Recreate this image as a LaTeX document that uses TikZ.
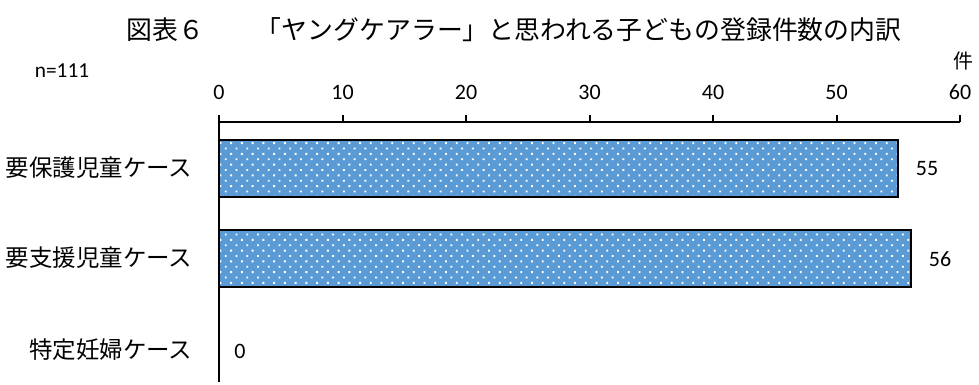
\documentclass[tikz,border=0pt]{standalone}
\usepackage{fontspec}
\setmainfont{Carlito}
\newfontfamily\jpfont{Noto Sans CJK JP}
\usetikzlibrary{patterns.meta}
\definecolor{barblue}{RGB}{91,155,213}

\tikzset{
	axis/.style={line width=1.5pt},
	bar/.style={preaction={fill=barblue}, draw=black, line width=1.5pt,
		pattern={Dots[radius=1pt, distance=5.7pt, angle=45]}, pattern color=white},
	ticklabel/.style={font=\fontsize{16.5}{18}\selectfont},
	catlabel/.style={anchor=east, font=\jpfont\fontsize{17.6}{19}\selectfont},
	vallabel/.style={font=\fontsize{16.5}{18}\selectfont}
}

\begin{document}
\begin{tikzpicture}[x=0.75pt, y=-0.75pt]
	\useasboundingbox (0,0) rectangle (979,385);

	\node (title)		at (514,30)	{\jpfont\fontsize{19.4}{21}\selectfont 図表６　　「ヤングケアラー」と思われる子どもの登録件数の内訳};
	\node (n)			at (62,71)	{\fontsize{16}{18}\selectfont n=111};
	\node (unit)		at (963,61)	{\jpfont\fontsize{15}{17}\selectfont 件};

	\coordinate (origin) at (219,122);
	\coordinate (xend)   at (960,122);
	\coordinate (ybot)   at (219,382);

	\draw[bar] (219,140) rectangle ({219+12.35*55},197);
	\draw[bar] (219,230) rectangle ({219+12.35*56},287);

	\draw[axis] (ybot) -- (origin) -- (xend);
	\foreach \v in {0,10,...,60} {
		\coordinate (tick\v) at ({219+12.35*\v},122);
		\draw[axis] (tick\v) -- ++(0,-7);
		\node[ticklabel] (lab\v) at ({219+12.35*\v},92) {\v};
	}

	\node[catlabel] (hogo)	at (197,168) {要保護児童ケース};
	\node[catlabel] (shien)	at (197,258) {要支援児童ケース};
	\node[catlabel] (ninpu)	at (197,350) {特定妊婦ケース};

	\node[vallabel] (v55) at (927,169) {55};
	\node[vallabel] (v56) at (940,259) {56};
	\node[vallabel] (v0)  at (240,351) {0};
\end{tikzpicture}
\end{document}
